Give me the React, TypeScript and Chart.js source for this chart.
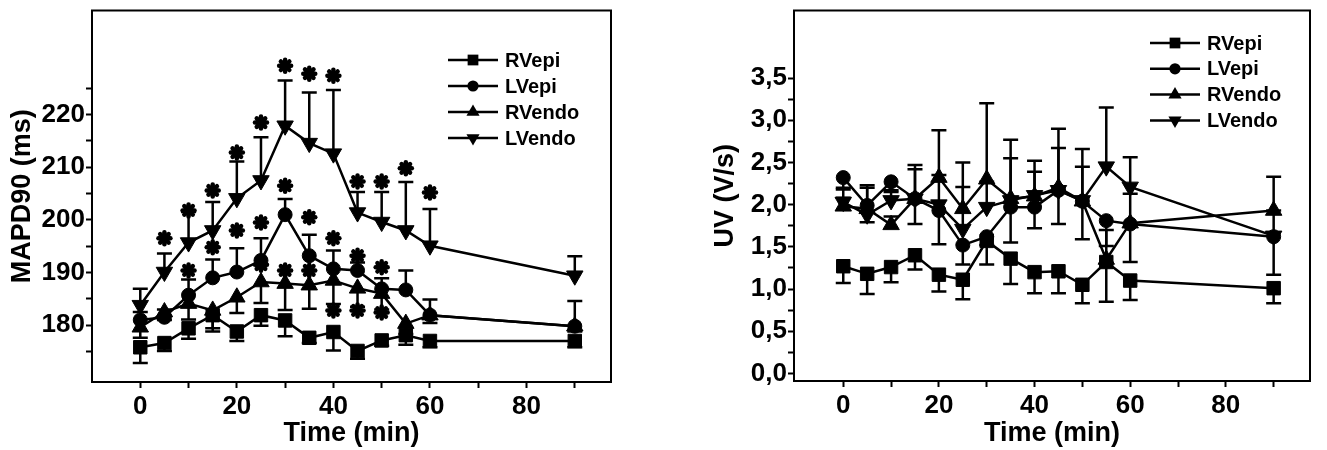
import React, { useEffect, useRef } from 'react';
import { Chart, registerables } from 'chart.js';

Chart.register(...registerables);

// ---------- data ----------
const timeMin = [0, 5, 10, 15, 20, 25, 30, 35, 40, 45, 50, 55, 60, 90];
const seriesNames = ['RVepi', 'LVepi', 'RVendo', 'LVendo'];

// MAPD90 (ms)
const mapdRVepi = [175.8, 176.6, 179.4, 181.9, 178.8, 181.9, 180.9, 177.6, 178.7, 175.1, 177.1, 178.1, 177.0, 177.0];
const mapdLVepi = [181.0, 181.5, 185.7, 189.0, 190.1, 192.3, 201.0, 193.2, 190.7, 190.4, 186.9, 186.7, 181.9, 179.8];
const mapdRVendo = [179.6, 182.5, 184.1, 182.8, 185.3, 188.2, 187.9, 187.6, 188.5, 187.0, 186.0, 180.3, 181.9, 179.8];
const mapdLVendo = [183.8, 190.1, 195.7, 198.0, 204.1, 207.5, 217.9, 214.6, 212.6, 201.4, 199.6, 198.0, 195.1, 189.4];

const mapdRVepiErr = [3.0, 1.5, 2.0, 2.5, 1.8, 2.0, 3.0, 1.0, 3.5, 1.5, 1.0, 1.8, 1.2, 1.2];
const mapdLVepiErr = [1.5, 1.5, 3.0, 3.5, 4.5, 4.2, 3.0, 4.0, 3.5, 1.5, 2.0, 3.7, 3.0, 4.8];
const mapdRVendoErr = [2.0, 1.5, 3.0, 4.0, 3.0, 4.0, 5.0, 4.5, 4.5, 3.5, 3.0, 2.0, 1.5, 1.0];
const mapdLVendoErr = [3.1, 3.5, 5.8, 5.4, 7.0, 8.2, 8.6, 9.6, 12.1, 3.9, 5.7, 9.2, 7.0, 3.7];

// significance asterisks (time, MAPD90 level)
const starTimes = [5, 10, 15, 20, 25, 30, 35, 40, 45, 50, 55, 60,
  10, 15, 20, 25, 30, 35, 40, 45, 50,
  25, 30, 35,
  40, 45, 50];
const starValues = [196.5, 201.8, 205.6, 212.8, 218.5, 229.3, 227.8, 227.4, 207.3, 207.3, 209.8, 205.2,
  190.4, 194.8, 198.0, 199.5, 206.5, 200.5, 196.5, 193.2, 191.0,
  191.5, 190.4, 190.4,
  182.8, 182.8, 182.4];

// UV (V/s)
const uvRVepi = [1.27, 1.18, 1.26, 1.40, 1.17, 1.11, 1.57, 1.36, 1.20, 1.21, 1.05, 1.32, 1.10, 1.01];
const uvLVepi = [2.32, 1.99, 2.27, 2.07, 1.93, 1.52, 1.62, 1.97, 1.97, 2.17, 2.04, 1.81, 1.77, 1.62];
const uvRVendo = [1.98, 1.95, 1.76, 2.07, 2.32, 1.95, 2.30, 2.07, 2.10, 2.20, 2.04, 1.35, 1.78, 1.93];
const uvLVendo = [2.03, 1.88, 2.05, 2.07, 2.00, 1.71, 1.97, 2.05, 2.11, 2.17, 2.05, 2.45, 2.21, 1.63];

const uvRVepiErr = [0.20, 0.24, 0.18, 0.17, 0.20, 0.23, 0.28, 0.30, 0.25, 0.26, 0.22, 0.47, 0.23, 0.18];
const uvLVepiErr = [0.12, 0.20, 0.12, 0.30, 0.40, 0.23, 0.10, 0.42, 0.25, 0.40, 0.45, 0.30, 0.45, 0.45];
const uvRVendoErr = [0.10, 0.25, 0.10, 0.35, 0.56, 0.55, 0.90, 0.70, 0.42, 0.70, 0.62, 0.35, 0.35, 0.40];
const uvLVendoErr = [0.15, 0.35, 0.12, 0.40, 0.35, 0.50, 0.30, 0.50, 0.28, 0.50, 0.40, 0.70, 0.35, 0.30];

// ticks
const xTickValues = [0, 10, 20, 30, 40, 50, 60, 70, 80, 90];
const xTickLabels = ['0', '20', '40', '60', '80'];
const mapdTickValues = [175, 180, 185, 190, 195, 200, 205, 210, 215, 220, 225];
const mapdTickLabels = ['180', '190', '200', '210', '220'];
const uvTickValues = [0, 0.25, 0.5, 0.75, 1, 1.25, 1.5, 1.75, 2, 2.25, 2.5, 2.75, 3, 3.25, 3.5];
const uvTickLabels = ['0,0', '0,5', '1,0', '1,5', '2,0', '2,5', '3,0', '3,5'];

// ---------- styling ----------
const FONT = "'Liberation Sans', Arial, sans-serif";
const markerStyles = ['rect', 'circle', 'triangle', 'triangle'];
const markerRotation = [0, 0, 0, 180];
const markerRadius = [9.5, 7, 9.5, 9.5];

function drawMarker(ctx: CanvasRenderingContext2D, k: number, x: number, y: number, scale: number) {
  const r = markerRadius[k] * scale;
  ctx.beginPath();
  if (k === 0) {
    const s = r * Math.SQRT1_2;
    ctx.rect(x - s, y - s, 2 * s, 2 * s);
  } else if (k === 1) {
    ctx.arc(x, y, r, 0, Math.PI * 2);
  } else {
    const dir = k === 2 ? 1 : -1;
    ctx.moveTo(x, y - dir * r);
    ctx.lineTo(x + r * 0.866, y + dir * r * 0.5);
    ctx.lineTo(x - r * 0.866, y + dir * r * 0.5);
    ctx.closePath();
  }
  ctx.fill();
}

type PanelSpec = {
  width: number;
  series: number[][];
  errors: number[][];
  dirs: string[];
  yMin: number;
  yMax: number;
  yTicks: number[];
  yLabel: (v: number) => string;
  yTitle: string;
  yTitlePad: number;
  yAxisWidth: number;
  xMin: number;
  xMax: number;
  xAxisHeight: number;
  padRight: number;
  legendX: number;
  legendY: number;
  legendGap: number;
  stars: boolean;
};

function makeConfig(p: PanelSpec): any {
  const datasets = p.series.map((vals, k) => ({
    label: seriesNames[k],
    data: timeMin.map((t, i) => ({ x: t, y: vals[i] })),
    errors: p.errors[k],
    errDir: p.dirs[k],
    borderColor: '#000',
    backgroundColor: '#000',
    borderWidth: 2.5,
    pointStyle: markerStyles[k],
    rotation: markerRotation[k],
    pointRotation: markerRotation[k],
    pointRadius: markerRadius[k],
    pointHoverRadius: markerRadius[k],
    pointBorderWidth: 1,
    pointBackgroundColor: '#000',
    pointBorderColor: '#000',
    tension: 0,
    fill: false,
  }));

  const errorBars = {
    id: 'errorBars',
    beforeDatasetsDraw(chart: any) {
      const ctx = chart.ctx;
      const ys = chart.scales.y;
      ctx.save();
      ctx.strokeStyle = '#000';
      ctx.lineWidth = 2.5;
      chart.data.datasets.forEach((ds: any, i: number) => {
        const meta = chart.getDatasetMeta(i);
        meta.data.forEach((pt: any, j: number) => {
          const v = ds.data[j].y;
          const e = ds.errors[j];
          const ends: number[] = [];
          if (ds.errDir !== 'down') ends.push(ys.getPixelForValue(v + e));
          if (ds.errDir !== 'up') ends.push(ys.getPixelForValue(v - e));
          ends.forEach((ey) => {
            ctx.beginPath();
            ctx.moveTo(pt.x, pt.y);
            ctx.lineTo(pt.x, ey);
            ctx.moveTo(pt.x - 7.5, ey);
            ctx.lineTo(pt.x + 7.5, ey);
            ctx.stroke();
          });
        });
      });
      ctx.restore();
    },
  };

  const starsPlugin = {
    id: 'stars',
    afterDatasetsDraw(chart: any) {
      if (!p.stars) return;
      const ctx = chart.ctx;
      const xs = chart.scales.x;
      const ys = chart.scales.y;
      ctx.save();
      ctx.strokeStyle = '#000';
      ctx.fillStyle = '#000';
      ctx.lineWidth = 4.5;
      ctx.lineCap = 'round';
      starTimes.forEach((t, i) => {
        const cx = xs.getPixelForValue(t);
        const cy = ys.getPixelForValue(starValues[i]);
        for (let a = 0; a < 4; a++) {
          const ang = (a * Math.PI) / 4;
          const dx = Math.cos(ang) * 6;
          const dy = Math.sin(ang) * 6;
          ctx.beginPath();
          ctx.moveTo(cx - dx, cy - dy);
          ctx.lineTo(cx + dx, cy + dy);
          ctx.stroke();
        }
        ctx.beginPath();
        ctx.arc(cx, cy, 3.5, 0, Math.PI * 2);
        ctx.fill();
      });
      ctx.restore();
    },
  };

  const frameAndLegend = {
    id: 'frameAndLegend',
    afterDraw(chart: any) {
      const ctx = chart.ctx;
      const a = chart.chartArea;
      ctx.save();
      ctx.strokeStyle = '#000';
      ctx.lineWidth = 2;
      ctx.strokeRect(a.left, a.top, a.right - a.left, a.bottom - a.top);
      // legend
      ctx.fillStyle = '#000';
      ctx.lineWidth = 2.5;
      ctx.font = `bold 20px ${FONT}`;
      ctx.textBaseline = 'middle';
      ctx.textAlign = 'left';
      seriesNames.forEach((name, k) => {
        const y = p.legendY + k * p.legendGap;
        ctx.beginPath();
        ctx.moveTo(p.legendX, y);
        ctx.lineTo(p.legendX + 50, y);
        ctx.stroke();
        drawMarker(ctx, k, p.legendX + 25, y, 0.8);
        ctx.fillText(name, p.legendX + 57, y + 1);
      });
      ctx.restore();
    },
  };

  const tickFont = { family: FONT, size: 26, weight: 'bold' as const };
  const titleFont = { family: FONT, size: 27, weight: 'bold' as const };

  return {
    type: 'line',
    data: { datasets },
    plugins: [errorBars, starsPlugin, frameAndLegend],
    options: {
      responsive: false,
      animation: false,
      devicePixelRatio: 1,
      layout: { padding: { top: 10, right: p.padRight, bottom: 0, left: 0 } },
      plugins: { legend: { display: false }, tooltip: { enabled: false } },
      scales: {
        x: {
          type: 'linear',
          min: p.xMin,
          max: p.xMax,
          afterBuildTicks: (s: any) => {
            s.ticks = xTickValues.map((v) => ({ value: v }));
          },
          afterFit: (s: any) => {
            s.height = p.xAxisHeight;
            s.paddingLeft = 0;
            s.paddingRight = 0;
          },
          ticks: {
            autoSkip: false,
            maxRotation: 0,
            minRotation: 0,
            padding: 3,
            color: '#000',
            font: tickFont,
            callback: (v: number) => (xTickLabels.includes(String(v)) ? String(v) : ''),
          },
          grid: {
            display: true,
            drawOnChartArea: false,
            drawTicks: true,
            tickLength: 6,
            tickWidth: 2,
            tickColor: '#000',
            color: '#000',
          },
          border: { display: true, color: '#000', width: 2 },
          title: {
            display: true,
            text: 'Time (min)',
            color: '#000',
            font: titleFont,
            padding: { top: 0, bottom: 0 },
          },
        },
        y: {
          type: 'linear',
          min: p.yMin,
          max: p.yMax,
          afterBuildTicks: (s: any) => {
            s.ticks = p.yTicks.map((v) => ({ value: v }));
          },
          afterFit: (s: any) => {
            s.width = p.yAxisWidth;
            s.paddingTop = 0;
            s.paddingBottom = 0;
          },
          ticks: {
            autoSkip: false,
            padding: 1,
            color: '#000',
            font: tickFont,
            callback: (v: number) => p.yLabel(v),
          },
          grid: {
            display: true,
            drawOnChartArea: false,
            drawTicks: true,
            tickLength: 6,
            tickWidth: 2,
            tickColor: '#000',
            color: '#000',
          },
          border: { display: true, color: '#000', width: 2 },
          title: {
            display: true,
            text: p.yTitle,
            color: '#000',
            font: titleFont,
            padding: { top: p.yTitlePad, bottom: 0 },
          },
        },
      },
    },
  };
}

const leftSpec: PanelSpec = {
  width: 663,
  series: [mapdRVepi, mapdLVepi, mapdRVendo, mapdLVendo],
  errors: [mapdRVepiErr, mapdLVepiErr, mapdRVendoErr, mapdLVendoErr],
  dirs: ['down', 'up', 'down', 'up'],
  yMin: 169.2,
  yMax: 239.8,
  yTicks: mapdTickValues,
  yLabel: (v) => (mapdTickLabels.includes(String(v)) ? String(v) : ''),
  yTitle: 'MAPD90 (ms)',
  yTitlePad: 6,
  yAxisWidth: 92,
  xMin: -10,
  xMax: 97.5,
  xAxisHeight: 68,
  padRight: 52,
  legendX: 448,
  legendY: 60,
  legendGap: 26,
  stars: true,
};

const rightSpec: PanelSpec = {
  width: 664,
  series: [uvRVepi, uvLVepi, uvRVendo, uvLVendo],
  errors: [uvRVepiErr, uvLVepiErr, uvRVendoErr, uvLVendoErr],
  dirs: ['down', 'down', 'up', 'up'],
  yMin: -0.09,
  yMax: 4.3,
  yTicks: uvTickValues,
  yLabel: (v) => {
    const s = v.toFixed(1).replace('.', ',');
    return Number.isInteger(v * 2) && uvTickLabels.includes(s) ? s : '';
  },
  yTitle: 'UV (V/s)',
  yTitlePad: 46,
  yAxisWidth: 131,
  xMin: -10.3,
  xMax: 97.6,
  xAxisHeight: 69,
  padRight: 17,
  legendX: 487,
  legendY: 43,
  legendGap: 25.8,
  stars: false,
};

function Panel({ spec, left }: { spec: PanelSpec; left: number }) {
  const ref = useRef<HTMLCanvasElement>(null);
  useEffect(() => {
    const chart = new Chart(ref.current as HTMLCanvasElement, makeConfig(spec));
    return () => chart.destroy();
  }, [spec]);
  return (
    <canvas
      ref={ref}
      width={spec.width}
      height={450}
      style={{ position: 'absolute', left, top: 0, width: spec.width, height: 450, display: 'block' }}
    />
  );
}

export default function App() {
  return (
    <div style={{ position: 'absolute', left: 0, top: 0, width: 1327, height: 450, background: '#fff' }}>
      <Panel spec={leftSpec} left={0} />
      <Panel spec={rightSpec} left={663} />
    </div>
  );
}
